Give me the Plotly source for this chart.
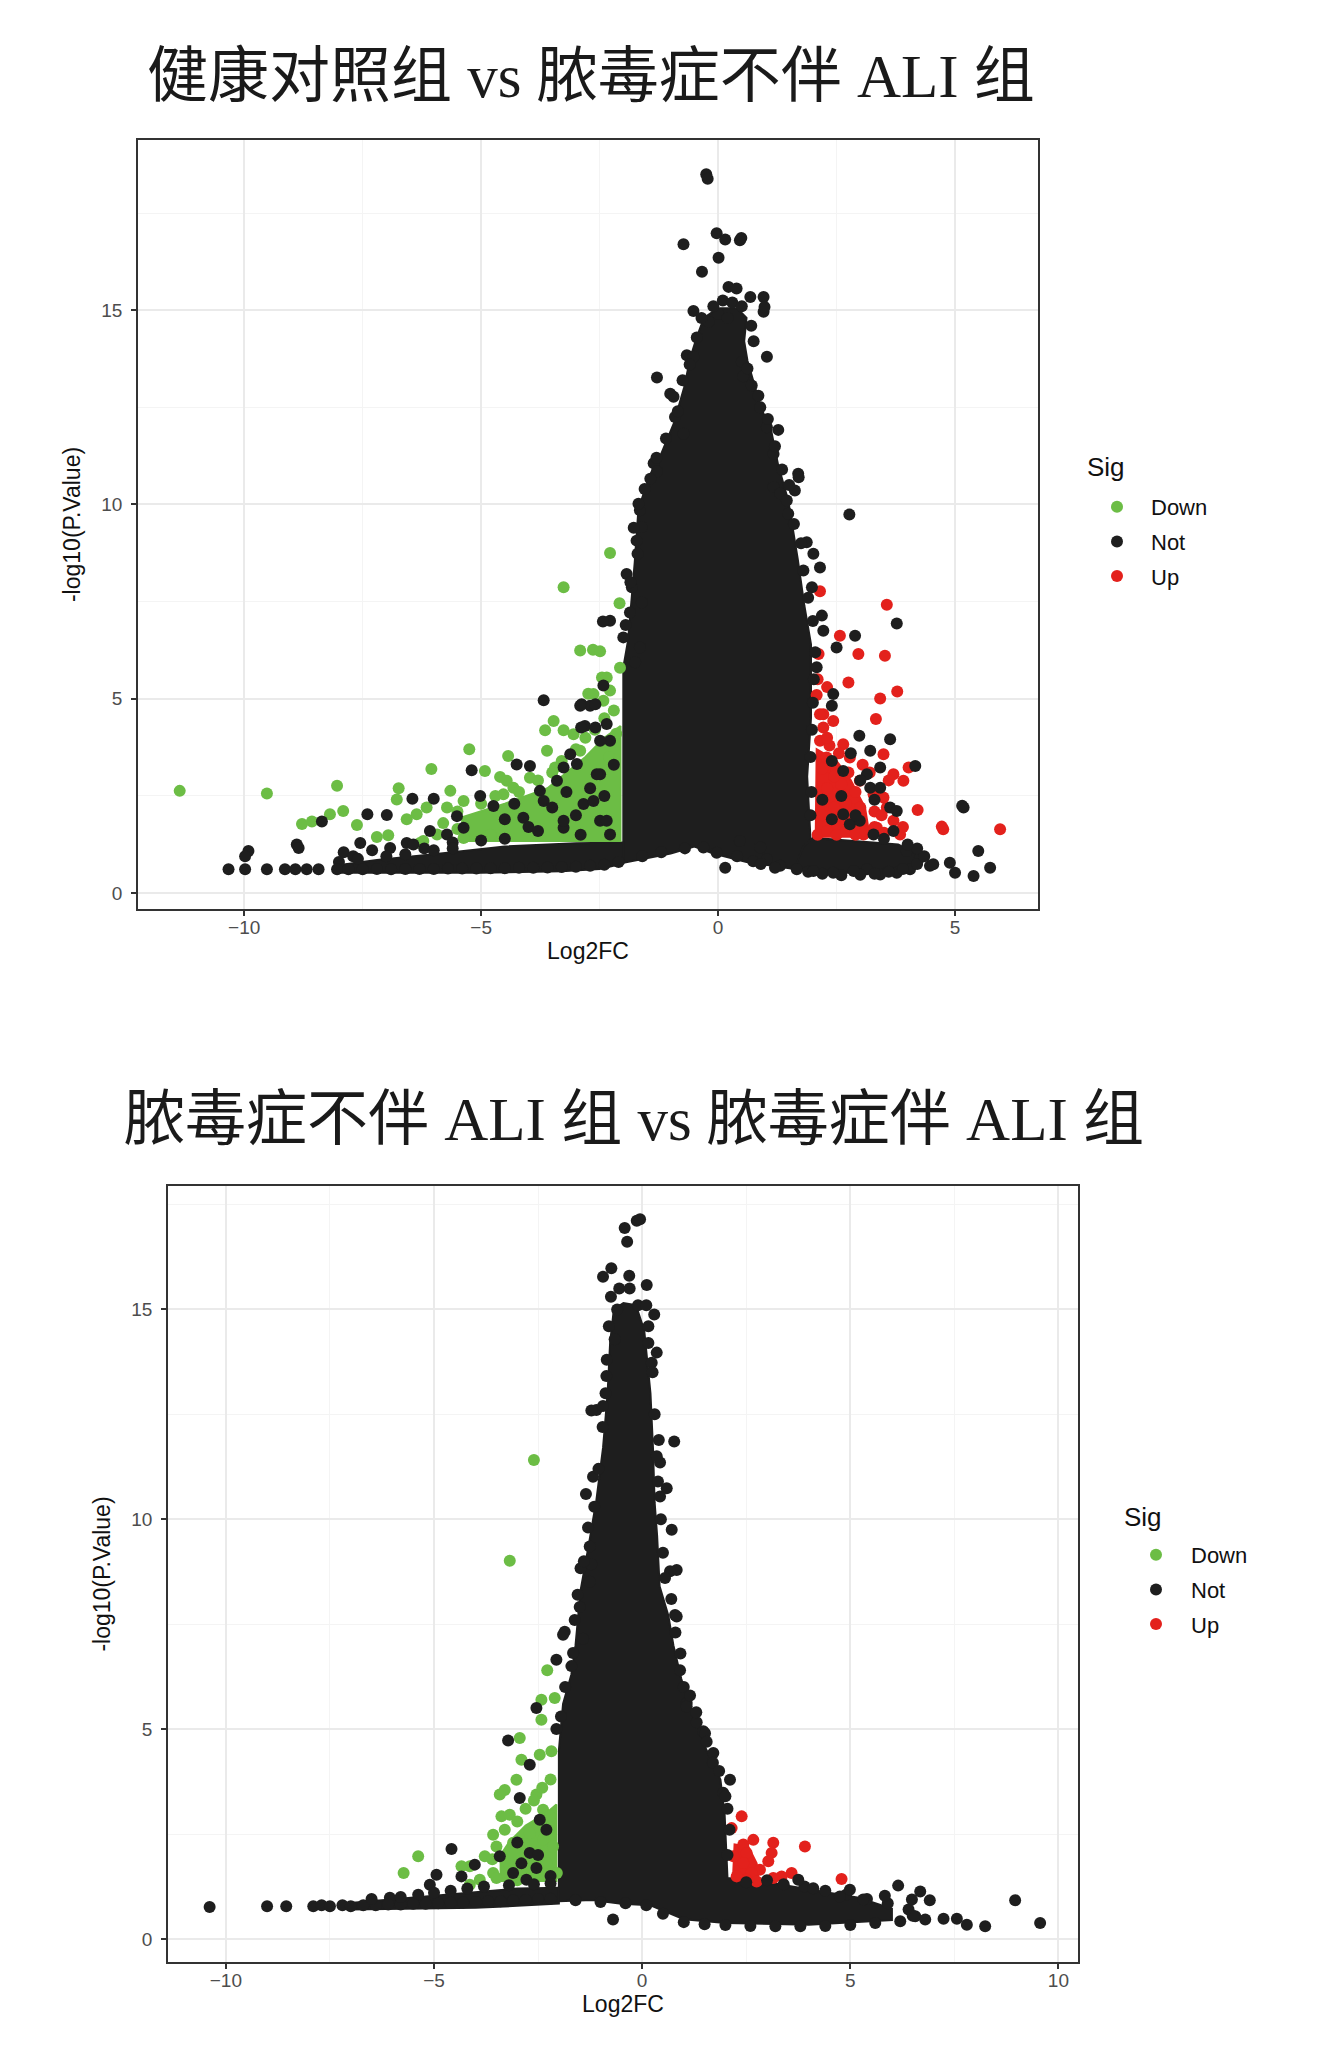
import plotly.graph_objects as go

# ---------------- data: panel 1 (健康对照组 vs 脓毒症不伴 ALI 组) ----------------
# outlines (x, y) of the areas where the "Not" dots overlap into a solid mass
p1_not_core = [(-2.0, 1.0), (-2.0, 5.8), (-1.9, 6.5), (-1.83, 7.5), (-1.76, 8.5), (-1.68, 9.9),
               (-1.42, 10.8), (-1.2, 11.3), (-0.93, 12.1), (-0.72, 13.0), (-0.58, 13.8), (-0.45, 14.3),
               (-0.3, 14.8), (0.0, 15.05), (0.4, 15.05), (0.6, 14.8), (0.55, 14.2), (0.62, 13.7),
               (0.9, 12.5), (1.12, 11.9), (1.27, 11.0), (1.48, 10.1), (1.68, 8.6), (1.82, 7.4),
               (1.96, 6.4), (1.96, 4.5), (1.88, 3.0), (1.95, 1.4), (1.6, 0.62), (0.6, 0.8),
               (-0.1, 1.02), (-0.5, 1.2), (-1.0, 1.02), (-2.0, 0.78)]
p1_not_band = [(-8.0, 0.52), (-5.0, 0.52), (-3.3, 0.56), (-2.5, 0.62), (-2.0, 0.76), (-2.0, 1.3),
               (-3.0, 1.28), (-4.5, 1.2), (-6.0, 1.0), (-7.2, 0.85), (-8.0, 0.72)]
p1_not_base = [(1.6, 0.6), (2.5, 0.52), (3.6, 0.52), (4.1, 0.7), (4.2, 1.0), (3.8, 1.25),
               (2.0, 1.42), (1.8, 1.2)]
p1_down_core = [(-5.4, 1.34), (-2.06, 1.34), (-2.06, 4.3), (-2.4, 4.0), (-2.8, 3.5), (-3.2, 3.1),
                (-3.6, 2.7), (-4.5, 2.3), (-5.4, 1.95)]
p1_up_core = [(2.06, 1.45), (3.2, 1.45), (3.1, 2.2), (2.8, 2.9), (2.5, 3.4), (2.08, 3.7)]

p1_down = [(-11.36, 2.63), (-9.52, 2.56), (-8.04, 2.76), (-6.05, 3.19), (-5.25, 3.70), (-4.43, 3.53),
           (-3.26, 7.87), (-2.28, 8.75), (-2.08, 7.46), (-2.91, 6.24), (-2.64, 6.26), (-2.49, 6.22),
           (-2.45, 5.55), (-2.74, 5.13), (-2.07, 5.80), (-3.47, 4.43), (-3.65, 4.19), (-3.26, 4.19),
           (-4.92, 3.14), (-4.60, 2.99), (-4.46, 2.89), (-6.74, 2.70), (-6.78, 2.41), (-8.19, 2.03),
           (-7.91, 2.11), (-8.78, 1.78), (-8.57, 1.84), (-7.62, 1.75), (-7.20, 1.44), (-6.96, 1.49),
           (-6.29, 1.29), (-2.28, 5.21), (-2.42, 4.95), (-3.05, 4.09), (-2.91, 3.66), (-3.61, 3.66),
           (-3.44, 3.23), (-3.97, 2.97), (-4.32, 2.71), (-4.53, 2.54), (-5.37, 2.37), (-5.72, 2.20),
           (-6.15, 2.20), (-6.36, 2.03), (-6.57, 1.90), (-5.65, 2.63), (-5.93, 1.51), (-6.22, 1.34),
           (-5.37, 1.42), (-2.35, 5.55), (-2.63, 5.12),
           (-5.5, 2.1), (-5.0, 2.3), (-4.7, 2.5), (-4.2, 2.6), (-3.8, 2.9), (-3.5, 3.1), (-3.3, 3.4),
           (-3.0, 3.7), (-2.8, 4.0), (-2.6, 4.2), (-2.4, 4.5), (-2.2, 4.7), (-5.8, 1.8), (-5.5, 1.65),
           (-4.8, 1.5), (-2.15, 4.1), (-2.3, 3.5)]

p1_not = [(-0.25, 18.5), (-0.22, 18.38), (-0.03, 16.98), (0.15, 16.82), (0.46, 16.8), (0.49, 16.86),
          (-0.73, 16.7), (0.01, 16.35), (-0.34, 15.99), (0.22, 15.6), (0.39, 15.56), (0.68, 15.34),
          (0.96, 15.34), (0.96, 14.96), (0.98, 15.08), (-0.52, 14.98), (0.0, 14.9), (0.2, 14.8),
          (-0.2, 14.7), (-0.66, 13.84), (0.5, 13.67), (0.53, 13.3), (0.71, 13.06), (1.03, 13.8),
          (-1.29, 13.27), (-0.52, 13.8), (-0.94, 12.77), (-0.91, 12.25), (-0.73, 11.82), (-1.01, 12.85),
          (0.89, 12.5), (1.03, 11.99), (1.27, 11.92), (1.17, 11.3), (-1.36, 11.06), (-1.29, 10.85),
          (-1.43, 10.66), (1.17, 10.45), (1.31, 10.28), (1.45, 10.1), (1.48, 9.76), (1.69, 10.79),
          (1.7, 10.7), (1.62, 10.36), (2.77, 9.74), (-1.65, 9.85), (-1.68, 10.02), (-1.61, 9.42),
          (-1.72, 9.07), (-1.7, 8.73), (1.87, 9.03), (2.01, 8.73),
          (0.1, 15.25), (0.3, 15.2), (-0.1, 15.1), (0.5, 15.1),
          (-1.93, 8.21), (-1.82, 7.87), (-1.61, 7.48), (-1.86, 7.22), (-2.0, 6.58), (-1.65, 6.32),
          (-1.75, 5.94),
          (-1.95, 6.9), (-1.85, 8.0), (-1.78, 9.4), (-1.55, 10.4), (-1.3, 11.2), (-1.1, 11.7),
          (-0.85, 12.4), (-0.75, 13.2), (-0.6, 13.6), (-0.45, 14.3), (-0.35, 14.8), (0.7, 14.6),
          (0.75, 14.2), (0.62, 13.5), (0.85, 12.8), (1.05, 12.2), (1.2, 11.5), (1.35, 10.9),
          (1.5, 10.5), (1.6, 9.5), (1.75, 9.0), (1.8, 8.3), (1.9, 7.6), (2.0, 7.0), (2.05, 6.2),
          (2.02, 5.5), (2.0, 4.9), (1.98, 4.2), (1.95, 3.5), (1.97, 2.6), (1.95, 2.0),
          (-2.28, 7.01), (-2.43, 6.99), (-2.88, 4.86), (-2.70, 4.82), (-2.42, 5.34), (-2.81, 4.3),
          (-2.35, 4.35), (-2.28, 3.92), (-2.49, 3.06), (-3.12, 3.57), (-2.84, 2.29), (-2.63, 2.37),
          (-2.49, 1.86), (-3.26, 1.68), (-3.68, 4.96), (-4.25, 3.31), (-3.97, 3.27), (-5.20, 3.16),
          (-6.45, 2.43), (-6.0, 2.43), (-8.36, 1.84), (-7.40, 2.03), (-6.99, 2.01), (-8.89, 1.25),
          (-8.85, 1.16), (-9.91, 1.08), (-9.98, 0.95), (-7.55, 1.29), (-6.92, 1.16), (-6.57, 1.29),
          (-5.02, 2.5), (-4.74, 2.24), (-3.76, 2.63), (-3.4, 2.89), (-2.91, 4.82), (-2.59, 4.86),
          (-2.89, 4.26), (-2.59, 4.26), (-2.49, 3.92), (-3.26, 3.23), (-2.98, 3.32), (-2.56, 3.06),
          (-4.11, 1.94), (-3.68, 2.37), (-3.26, 1.86), (-5.51, 1.98), (-5.37, 1.68), (-5.72, 1.51),
          (-6.08, 1.6), (-6.43, 1.25), (-2.35, 1.86), (-2.28, 1.51),
          (-4.5, 1.9), (-4.0, 1.7), (-3.5, 2.2), (-3.0, 2.0), (-2.7, 2.7), (-3.2, 2.6), (-2.4, 2.5),
          (-2.2, 3.3), (-3.8, 1.6), (-2.9, 1.5), (-4.3, 2.3),
          (-7.9, 1.05), (-7.7, 0.95), (-7.3, 1.1), (-6.2, 1.15), (-5.6, 1.3), (-5.0, 1.35), (-4.5, 1.4),
          (-8.0, 0.8), (-7.6, 0.88), (-7.0, 0.95), (-6.6, 1.0), (-6.0, 1.1), (-5.6, 1.15),
          (-10.33, 0.61), (-9.98, 0.61), (-9.52, 0.61), (-9.14, 0.61), (-8.92, 0.61), (-8.68, 0.61),
          (-8.43, 0.61), (-8.04, 0.61), (-7.8, 0.61), (-7.5, 0.61), (-7.2, 0.62), (-6.9, 0.61),
          (-6.6, 0.62), (-6.3, 0.62), (-6.0, 0.62), (-5.7, 0.63), (-5.4, 0.63), (-5.1, 0.63),
          (-4.8, 0.64), (-4.5, 0.64), (-4.2, 0.65), (-3.9, 0.65), (-3.6, 0.66), (-3.3, 0.67),
          (-3.0, 0.68), (-2.7, 0.7), (-2.4, 0.73), (-2.1, 0.8), (-1.6, 0.95), (-1.2, 1.05),
          (-0.7, 1.15),
          (2.15, 8.38), (1.98, 7.87), (2.19, 7.14), (2.22, 6.75), (2.5, 6.32), (2.08, 5.81),
          (2.43, 5.12), (2.40, 4.82), (2.89, 6.62), (3.77, 6.94), (2.98, 4.05), (3.63, 3.96),
          (3.21, 3.66), (3.42, 3.23), (4.16, 3.27), (5.18, 2.20), (5.15, 2.25), (3.63, 2.2),
          (3.77, 2.11), (3.21, 2.71), (2.64, 2.03), (2.78, 1.77), (2.99, 1.86), (3.28, 1.51),
          (3.70, 1.60), (2.64, 3.14), (3.14, 3.06), (3.42, 2.71),
          (2.4, 1.9), (2.9, 2.0), (2.6, 2.5), (3.0, 2.9), (2.4, 3.4), (2.8, 3.6), (3.3, 2.4),
          (2.2, 2.4), (3.5, 1.4),
          (3.98, 1.08), (4.26, 0.91), (4.47, 0.70), (4.89, 0.78), (5.0, 0.52), (5.39, 0.44),
          (5.49, 1.08), (5.74, 0.65), (4.05, 0.61), (3.77, 0.52), (3.42, 0.48), (3.14, 0.61),
          (4.54, 0.74),
          (1.9, 0.55), (2.2, 0.5), (2.6, 0.46), (3.0, 0.47), (3.3, 0.5), (3.6, 0.55), (3.9, 0.62),
          (4.2, 0.75), (4.35, 0.95), (4.2, 1.15), (4.0, 1.25),
          (0.15, 0.65), (0.74, 0.82), (1.03, 0.87), (1.31, 0.70), (1.66, 0.61), (2.01, 0.57),
          (2.43, 0.52), (2.86, 0.57), (-0.31, 1.17), (-0.03, 1.04), (0.46, 1.34), (0.89, 1.17),
          (0.4, 0.95), (0.9, 0.75), (1.2, 0.65)]

p1_up = [(3.56, 7.42), (3.52, 6.11), (2.96, 6.15), (2.57, 6.62), (2.15, 7.77), (2.75, 5.42),
         (3.42, 5.01), (3.78, 5.19), (3.33, 4.48), (2.12, 6.15), (5.95, 1.64), (4.75, 1.64),
         (4.72, 1.71), (4.21, 2.14), (4.02, 3.23), (3.49, 3.57), (3.70, 3.06), (3.91, 2.89),
         (2.99, 2.89), (3.28, 2.54), (3.49, 2.46), (3.56, 2.2), (3.70, 1.86), (3.84, 1.51),
         (3.35, 1.68), (3.07, 1.51), (2.15, 3.92), (2.29, 3.49), (2.64, 3.83), (2.78, 3.49),
         (2.50, 3.14), (2.22, 4.26), (2.43, 4.43), (2.08, 5.1), (2.22, 4.6),
         (2.1, 1.5), (2.3, 1.6), (2.5, 1.5), (2.7, 1.6), (2.9, 1.5), (3.1, 1.6), (3.3, 1.7),
         (3.5, 1.55), (2.2, 2.0), (2.45, 2.2), (2.7, 2.3), (3.0, 2.2), (3.3, 2.1), (2.3, 2.7),
         (2.6, 2.8), (2.9, 2.6), (2.2, 3.2), (2.45, 3.0), (2.75, 3.1), (2.35, 3.8), (2.55, 3.6),
         (2.15, 4.6), (2.3, 4.0), (3.05, 3.3), (3.2, 3.1), (3.6, 2.9), (3.45, 2.0), (3.9, 1.7),
         (2.1, 5.5), (2.3, 5.3)]

# ---------------- data: panel 2 (脓毒症不伴 ALI 组 vs 脓毒症伴 ALI 组) ----------------
p2_not_core = [(-2.0, 0.9), (-2.0, 4.5), (-1.9, 5.6), (-1.7, 6.3), (-1.6, 7.0), (-1.48, 8.3),
               (-1.28, 9.4), (-1.1, 10.45), (-0.94, 11.7), (-0.83, 13.0), (-0.77, 14.2), (-0.68, 15.0),
               (-0.45, 15.15), (-0.15, 15.1), (0.05, 14.5), (0.2, 13.0), (0.26, 11.7), (0.3, 10.4),
               (0.36, 9.6), (0.42, 8.4), (0.63, 7.7), (0.75, 7.0), (0.94, 6.2), (1.18, 5.4),
               (1.4, 5.0), (1.5, 4.6), (1.88, 3.8), (1.98, 3.0), (2.05, 1.45), (3.0, 1.35),
               (4.2, 1.15), (5.2, 0.98), (6.0, 0.72), (6.0, 0.45), (4.0, 0.34), (2.0, 0.38),
               (1.0, 0.47), (0.2, 0.8), (-0.5, 0.84), (-1.2, 0.93)]
p2_not_band = [(-7.0, 0.7), (-4.0, 0.74), (-2.0, 0.84), (-2.0, 1.22), (-3.0, 1.2), (-4.5, 1.07),
               (-6.0, 0.94), (-7.0, 0.86)]
p2_down_core = [(-3.4, 1.38), (-2.06, 1.38), (-2.06, 3.2), (-2.3, 3.0), (-2.8, 2.7), (-3.2, 2.3),
                (-3.4, 2.0)]
p2_up_core = [(2.18, 1.4), (2.8, 1.4), (2.75, 1.8), (2.55, 2.2), (2.22, 2.25)]

p2_down = [(-2.60, 11.41), (-3.18, 9.01), (-2.28, 6.40), (-2.42, 5.70), (-2.10, 5.74), (-2.42, 5.22),
           (-2.94, 4.79), (-2.46, 4.39), (-2.18, 4.47), (-2.90, 4.27), (-3.02, 3.79), (-3.30, 3.55),
           (-3.42, 3.44), (-2.54, 3.44), (-3.38, 2.92), (-3.18, 2.96), (-3.58, 2.48), (-3.78, 1.97),
           (-4.14, 1.73), (-4.34, 1.73), (-4.14, 1.29), (-3.90, 1.41), (-5.38, 1.97), (-5.73, 1.57),
           (-2.70, 2.52), (-2.38, 2.36), (-2.78, 2.05), (-3.10, 2.29), (-2.14, 2.20), (-2.05, 1.57),
           (-2.30, 1.81), (-3.18, 1.73), (-3.58, 1.57), (-2.38, 3.08), (-2.22, 2.92),
           (-3.5, 2.2), (-3.3, 2.6), (-3.0, 2.8), (-2.8, 3.1), (-2.6, 3.3), (-2.4, 3.6), (-2.2, 3.8),
           (-3.6, 1.9), (-3.5, 1.45), (-3.0, 1.4)]

p2_not = [(-0.13, 17.11), (-0.05, 17.15), (-0.42, 16.94), (-0.36, 16.61), (-0.74, 15.98), (-0.94, 15.78),
          (-0.31, 15.8), (0.11, 15.58), (0.29, 14.88), (-0.66, 14.29), (0.35, 13.97), (0.23, 13.73),
          (0.15, 14.2), (-0.86, 13.41), (-1.10, 12.6), (-1.22, 12.59), (-0.94, 12.7), (0.40, 11.89),
          (0.77, 11.85), (0.43, 11.35), (-1.18, 11.01), (-1.35, 10.6), (0.59, 10.74), (0.43, 10.54),
          (0.71, 9.75), (-1.48, 8.83), (-1.26, 9.35), (-1.22, 8.93), (0.83, 8.79), (0.67, 8.76),
          (0.79, 7.72), (-1.26, 8.51), (-1.50, 7.91), (0.91, 6.4), (1.07, 5.62), (1.31, 5.16),
          (1.47, 4.95), (-1.86, 7.32), (-1.66, 6.81), (-1.42, 7.15), (0.83, 7.68), (1.71, 4.43),
          (2.11, 3.79), (1.95, 3.48), (1.51, 4.9), (1.07, 5.54),
          (-1.95, 5.3), (-1.85, 6.0), (-1.7, 6.5), (-1.62, 7.6), (-1.55, 8.2), (-1.4, 9.0),
          (-1.3, 9.8), (-1.15, 10.3), (-1.05, 11.2), (-0.95, 12.2), (-0.88, 13.0), (-0.85, 13.8),
          (-0.8, 14.6), (-0.75, 15.3), (-0.55, 15.5), (-0.3, 15.5), (-0.6, 15.0), (-0.1, 15.1),
          (0.1, 15.1), (0.15, 14.6), (0.25, 13.5), (0.3, 12.5), (0.35, 11.5), (0.38, 10.9),
          (0.45, 10.0), (0.5, 9.2), (0.55, 8.6), (0.7, 8.1), (0.8, 7.3), (0.92, 6.8), (1.0, 6.0),
          (1.15, 5.8), (1.3, 5.4), (1.55, 4.7), (1.7, 4.2), (1.85, 4.0), (2.0, 3.4), (2.05, 3.1),
          (2.1, 2.6), (2.05, 2.0),
          (-1.90, 7.25), (-2.06, 6.65), (-2.06, 5.0), (-2.54, 5.5), (-3.22, 4.73), (-2.70, 4.15),
          (-2.94, 3.36), (-4.58, 2.14), (-4.02, 1.77), (-4.94, 1.53), (-4.34, 1.49), (-5.10, 1.29),
          (-5.38, 1.05), (-6.06, 0.98), (-2.54, 1.69), (-2.70, 2.05), (-3.42, 1.97), (-3.10, 1.57),
          (-2.78, 1.41), (-2.46, 2.84),
          (-3.0, 2.3), (-2.5, 2.0), (-2.3, 2.6), (-2.9, 1.8), (-2.2, 1.5),
          (-10.39, 0.76), (-9.01, 0.78), (-8.55, 0.78), (-7.9, 0.78), (-7.7, 0.8), (-7.5, 0.78),
          (-7.2, 0.8), (-7.0, 0.78), (-6.7, 0.8), (-6.4, 0.8), (-6.1, 0.82), (-5.8, 0.82),
          (-5.5, 0.84), (-5.2, 0.84), (-4.9, 0.85), (-4.6, 0.86), (-4.3, 0.87), (-4.0, 0.88),
          (-3.7, 0.9), (-3.4, 0.9), (-3.1, 0.92), (-2.8, 0.93), (-2.5, 0.95), (-2.2, 0.96),
          (-6.5, 0.95), (-5.8, 1.0), (-5.0, 1.1), (-4.6, 1.15), (-4.2, 1.2), (-3.8, 1.25),
          (-3.2, 1.28), (-2.6, 1.3), (-2.2, 1.32),
          (-1.6, 0.92), (-1.0, 0.88), (-0.4, 0.85), (0.1, 0.8), (0.5, 0.6),
          (2.5, 1.35), (3.0, 1.4), (3.4, 1.3), (3.9, 1.25), (4.4, 1.15), (4.9, 1.05), (5.4, 0.95),
          (5.9, 0.85), (6.4, 0.7), (1.0, 0.4), (1.5, 0.35), (2.0, 0.33), (2.6, 0.31), (3.2, 0.3),
          (3.8, 0.3), (4.4, 0.31), (5.0, 0.33), (5.6, 0.38), (6.2, 0.42), (6.5, 0.55),
          (-0.70, 0.46), (6.15, 1.27), (5.83, 1.03), (6.68, 1.13), (6.91, 0.92), (6.48, 0.94),
          (8.96, 0.92), (9.56, 0.38), (7.24, 0.48), (7.56, 0.48), (7.80, 0.34), (8.24, 0.30),
          (6.80, 0.46), (6.56, 0.54), (4.99, 1.17), (4.75, 1.01), (5.31, 0.94), (3.75, 1.41),
          (4.11, 1.21)]

p2_up = [(2.39, 2.92), (2.15, 2.64), (2.67, 2.36), (2.43, 2.25), (3.15, 2.29), (3.11, 2.05),
         (3.03, 1.85), (3.91, 2.20), (4.79, 1.43), (3.59, 1.57), (3.35, 1.49), (3.15, 1.45),
         (2.83, 1.65), (2.63, 1.57), (2.35, 1.65), (2.51, 1.41), (2.27, 1.49), (2.75, 1.37),
         (2.19, 1.97), (2.51, 2.05), (2.43, 1.81)]

# ---------------- figure ----------------
# the page body keeps its default 8px margin, so pixel positions are shifted by it
OFF = 8
FW, FH = 1333 - OFF, 2051 - OFF
GREEN = "#6CBD45"
BLACK = "#1E1E1E"
RED = "#E3211C"
SANS = "Liberation Sans, Arial, sans-serif"


def fx(px):
    return (px - OFF) / FW


def fy(py):
    return 1 - (py - OFF) / FH


def xs(pts):
    return [p[0] for p in pts]


def ys(pts):
    return [p[1] for p in pts]


fig = go.Figure()


def add_blob(pts, color, xa, ya):
    closed = pts + pts[:1]
    fig.add_trace(go.Scatter(x=xs(closed), y=ys(closed), xaxis=xa, yaxis=ya, mode="lines",
                             fill="toself", fillcolor=color, line=dict(color=color, width=2),
                             showlegend=False, hoverinfo="skip"))


def add_points(name, pts, color, rank, xa, ya, legend):
    fig.add_trace(go.Scatter(x=xs(pts), y=ys(pts), xaxis=xa, yaxis=ya, mode="markers", name=name,
                             marker=dict(color=color, size=12, line=dict(width=0)),
                             legend=legend, legendgroup=legend + name, legendrank=rank))


for xa, ya, lg, cores, dcore, ucore, down, notp, up in [
    ("x", "y", "legend", [p1_not_core, p1_not_band, p1_not_base], p1_down_core, p1_up_core,
     p1_down, p1_not, p1_up),
    ("x2", "y2", "legend2", [p2_not_core, p2_not_band], p2_down_core, p2_up_core,
     p2_down, p2_not, p2_up),
]:
    for c in cores:
        add_blob(c, BLACK, xa, ya)
    add_blob(dcore, GREEN, xa, ya)
    add_blob(ucore, RED, xa, ya)
    add_points("Down", down, GREEN, 1, xa, ya, lg)
    add_points("Up", up, RED, 3, xa, ya, lg)
    add_points("Not", notp, BLACK, 2, xa, ya, lg)

tick_font = dict(family=SANS, size=19, color="#4D4D4D")
title_font = dict(family=SANS, size=23, color="#111111")
axis_common = dict(showline=True, mirror=True, linecolor="#333333", linewidth=1.5,
                   ticks="outside", ticklen=5, tickwidth=1.5, tickcolor="#333333",
                   showgrid=True, gridcolor="#EAEAEA", gridwidth=1.5, zeroline=False,
                   tickfont=tick_font, dtick=5, tick0=0,
                   minor=dict(dtick=2.5, tick0=0, showgrid=True, gridcolor="#F4F4F4", gridwidth=1))

legend_common = dict(xanchor="left", yanchor="top", font=dict(family=SANS, size=22, color="#111111"),
                     traceorder="grouped", tracegroupgap=3, bgcolor="rgba(0,0,0,0)")

fig.update_layout(
    width=FW, height=FH, autosize=False,
    margin=dict(l=0, r=0, t=0, b=0),
    paper_bgcolor="white", plot_bgcolor="white",
    xaxis=dict(axis_common, domain=[fx(138), fx(1038)], range=[-12.24, 6.75], anchor="y",
               ticklabelstandoff=-5, title=dict(text="Log2FC", font=title_font, standoff=6)),
    yaxis=dict(axis_common, domain=[fy(909), fy(140)], range=[-0.41, 19.38], anchor="x",
               ticklabelstandoff=5, title=dict(text="-log10(P.Value)", font=title_font, standoff=14)),
    xaxis2=dict(axis_common, domain=[fx(168), fx(1078)], range=[-11.39, 10.47], anchor="y2",
                ticklabelstandoff=-5, title=dict(text="Log2FC", font=title_font, standoff=6)),
    yaxis2=dict(axis_common, domain=[fy(1962), fy(1186)], range=[-0.55, 17.94], anchor="x2",
                ticklabelstandoff=5, title=dict(text="-log10(P.Value)", font=title_font, standoff=14)),
    legend=dict(legend_common, x=fx(1083), y=fy(486), itemwidth=58),
    legend2=dict(legend_common, x=fx(1121), y=fy(1534), itemwidth=60),
    showlegend=True,
)

# legend headings
for px, py in [(1085, 467), (1122, 1517)]:
    fig.add_annotation(text="Sig", xref="paper", yref="paper", x=fx(px), y=fy(py),
                       xanchor="left", yanchor="middle", showarrow=False,
                       font=dict(family=SANS, size=26, color="#111111"))

title_style = dict(family="Liberation Serif, Noto Sans CJK SC, serif", size=61, color="#1A1A1A")
fig.add_annotation(text="健康对照组 vs 脓毒症不伴 ALI 组", xref="paper", yref="paper",
                   x=fx(591), y=fy(76), xanchor="center", yanchor="middle",
                   showarrow=False, font=title_style)
fig.add_annotation(text="脓毒症不伴 ALI 组 vs 脓毒症伴 ALI 组", xref="paper", yref="paper",
                   x=fx(634), y=fy(1119), xanchor="center", yanchor="middle",
                   showarrow=False, font=title_style)

fig.write_html("out.html")
